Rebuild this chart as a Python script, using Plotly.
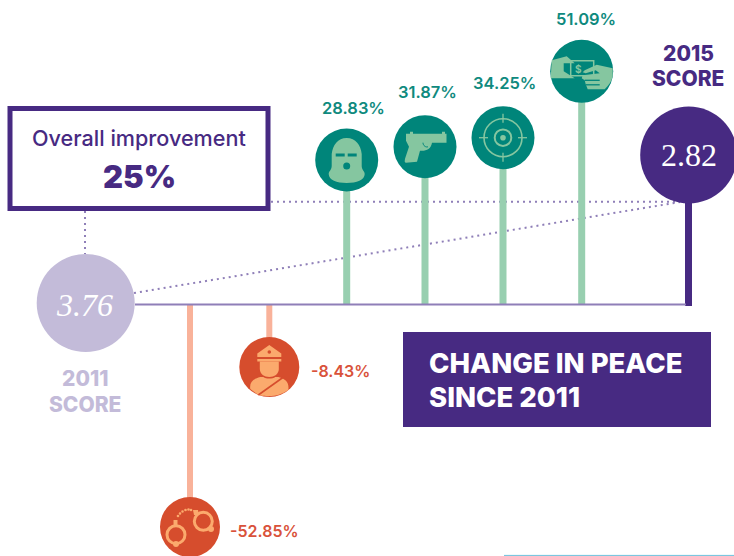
import re
import plotly.graph_objects as go

# lollipop values (labels are not to scale in the original graphic)
up_labels = ["28.83%", "31.87%", "34.25%", "51.09%"]
up_x = [346.7, 425, 503, 581.7]
up_tip = [160, 146.7, 137.7, 71.3]
down_labels = ["-52.85%", "-8.43%"]
down_x = [190, 269.3]
down_tip = [527, 367]
score_labels = ["3.76", "2.82"]
score_years = ["2011", "2015"]
score_x = [85.7, 688.7]
score_y = [303, 155]

PURPLE = "#472a82"
LILAC = "#c3bbd9"
RULE = "#8f7fb8"
TEAL = "#00857a"
MINT = "#98cfb0"
ICON_MINT = "#85c6a0"
RED = "#d64d2d"
PEACH = "#f9b29a"
ICON_ORANGE = "#fbaa6d"
FONT = "Inter"
BASE_Y = 304.5

fig = go.Figure()


def stem(x, y0, y1, color, width):
    fig.add_trace(go.Scatter(x=[x, x], y=[y0, y1], mode="lines",
                             line=dict(color=color, width=width), hoverinfo="skip"))


def dotted(xs, ys):
    fig.add_trace(go.Scatter(x=xs, y=ys, mode="lines", hoverinfo="skip",
                             line=dict(color=RULE, width=2, dash="2px 4px")))


dotted([271, 680], [201.7, 201.7])
dotted([134, 680], [293, 202])
dotted([85, 85], [211, 254])

for x, tip in zip(up_x, up_tip):
    stem(x, BASE_Y, tip, MINT, 7)
for x, tip in zip(down_x, down_tip):
    stem(x, BASE_Y, tip, PEACH, 6)
stem(688.5, 306, score_y[1], PURPLE, 7)
fig.add_trace(go.Scatter(x=[135, 686], y=[BASE_Y, BASE_Y], mode="lines",
                         line=dict(color=RULE, width=2), hoverinfo="skip"))
fig.add_trace(go.Scatter(x=[504, 734], y=[555.4, 555.4], mode="lines",
                         line=dict(color="#6cc0dc", width=1), hoverinfo="skip"))

fig.add_trace(go.Scatter(x=up_x, y=up_tip, mode="markers", hoverinfo="skip",
                         marker=dict(size=63, color=TEAL, opacity=1, line=dict(width=0))))
fig.add_trace(go.Scatter(x=down_x, y=down_tip, mode="markers", hoverinfo="skip",
                         marker=dict(size=60, color=RED, opacity=1, line=dict(width=0))))
fig.add_trace(go.Scatter(x=score_x, y=score_y, mode="markers", hoverinfo="skip",
                         marker=dict(size=[98, 97], color=[LILAC, PURPLE], opacity=1, line=dict(width=0))))


def moved(path, cx, cy):
    # shift an absolute path, numbers alternate x y
    parts = re.findall(r"[MLCQZ]|-?\d+\.?\d*", path)
    out, is_x = [], True
    for p in parts:
        if p in "MLCQZ":
            out.append(p)
            is_x = True
        else:
            out.append(str(float(p) + (cx if is_x else cy)))
            is_x = not is_x
    return " ".join(out)


def fill(path, cx, cy, color):
    fig.add_shape(type="path", path=moved(path, cx, cy), fillcolor=color,
                  line=dict(width=0), layer="above")


def line(path, cx, cy, color, width):
    fig.add_shape(type="path", path=moved(path, cx, cy), line=dict(color=color, width=width),
                  fillcolor="rgba(0,0,0,0)", layer="above")


def disc(cx, cy, r, color):
    fig.add_shape(type="circle", x0=cx - r, x1=cx + r, y0=cy - r, y1=cy + r,
                  fillcolor=color, line=dict(width=0), layer="above")


def ring(cx, cy, r, color, width):
    fig.add_shape(type="circle", x0=cx - r, x1=cx + r, y0=cy - r, y1=cy + r,
                  fillcolor="rgba(0,0,0,0)", line=dict(color=color, width=width), layer="above")


# balaclava
cx, cy = up_x[0], up_tip[0]
fill("M 0 -22 C -9 -22 -14 -15 -15 -6 L -15 6 C -15 10 -18 11 -18 14 C -18 20 -10 23 0 23 "
     "C 10 23 18 20 18 14 C 18 11 15 10 15 6 L 15 -6 C 14 -15 9 -22 0 -22 Z", cx, cy, ICON_MINT)
fill("M -11 -6.5 L -2 -6.5 L -2 -3.5 L -11 -3.5 Z", cx, cy, TEAL)
fill("M 1 -6.5 L 10 -6.5 L 10 -3.5 L 1 -3.5 Z", cx, cy, TEAL)
disc(cx, cy + 6, 3.5, TEAL)

# pistol
cx, cy = up_x[1], up_tip[1]
fill("M -19 -13 L -15 -13 L -15 -15 L -12 -15 L -12 -13 L 17 -13 L 17 -15 L 20 -15 L 20 -13 L 21.5 -13 "
     "L 21.5 -4 L 7 -4 C 6 2 2 4 -3 4 L -5 4 L -8 15 L -19 16 C -21 16 -20 13 -20 12 L -16 0 L -19 -6 Z",
     cx, cy, ICON_MINT)
line("M -2 -4 C -2 -1 1 1 3 0", cx, cy, TEAL, 1)

# target
cx, cy = up_x[2], up_tip[2]
ring(cx, cy, 19, ICON_MINT, 1.6)
ring(cx, cy, 8.3, ICON_MINT, 2)
disc(cx, cy, 2.8, ICON_MINT)
line("M -24 0 L -15 0", cx, cy, ICON_MINT, 1.3)
line("M 15 0 L 24 0", cx, cy, ICON_MINT, 1.3)
line("M 0 -24 L 0 -15", cx, cy, ICON_MINT, 1.3)
line("M 0 15 L 0 24", cx, cy, ICON_MINT, 1.3)

# banknote in hand
cx, cy = up_x[3], up_tip[3]
fill("M -30 -11 L -15 -15 L -7 -8 L -18 -8 L -18 0 L -7 7 L -31 7 Z", cx, cy, ICON_MINT)
line("M -11 -10.5 L 12 -10.5 L 12 4.5 L -11 4.5 Z", cx, cy, ICON_MINT, 1.5)
fill("M 31 -3 L 15 -6.5 L 3 -1 L 1 1 L 4 2 L 14 -1 L 18 2 L 1 4 L 0 7 L 3 9 L 4 13 L 6 18 L 23 18 "
     "C 27 14 30 10 31 5 Z", cx, cy, ICON_MINT)
line("M 3 9 L 18 9", cx, cy, TEAL, 1.3)
line("M 4 13.5 L 18 13.5", cx, cy, TEAL, 1.3)

# officer
cx, cy = down_x[1], down_tip[1]
fill("M 0 -22 L 12 -13.5 L 12 -10 L -12 -10 L -12 -13.5 Z", cx, cy, ICON_ORANGE)
fill("M -12 -8 L 12 -8 L 12 -5.5 L -12 -5.5 Z", cx, cy, ICON_ORANGE)
disc(cx, cy - 15, 1.8, RED)
fill("M -9.5 -5.5 L 9.5 -5.5 L 9.5 2 C 9.5 7 5 10 0 10 C -5 10 -9.5 7 -9.5 2 Z", cx, cy, ICON_ORANGE)
fill("M -19 22 C -20 16 -17 12 -9 10 L -6 10 C -3 12 3 12 6 10 L 9 10 C 17 12 20 16 19 23 "
     "C 12 28 2 31 -11 28 Z", cx, cy, ICON_ORANGE)
line("M 15 9.5 L -11 28", cx, cy, RED, 1.6)

# handcuffs
cx, cy = down_x[0], down_tip[0]
ring(cx - 14, cy + 7.7, 9, ICON_ORANGE, 3)
ring(cx + 13.3, cy - 5.7, 9, ICON_ORANGE, 3)
fill("M -16.5 -7 L -12.5 -7 L -12.5 -2 L -16.5 -2 Z", cx, cy, ICON_ORANGE)
fill("M 3 -17 L 8 -17 L 9 -12 L 4 -12 Z", cx, cy, ICON_ORANGE)
disc(cx - 14, cy + 17, 3, ICON_ORANGE)
disc(cx + 21, cy + 2, 3, ICON_ORANGE)
for dx, dy in [(-12, -11), (-10, -13.5), (-7.5, -15.5), (-4.5, -17), (-1.5, -17.5), (1, -17)]:
    disc(cx + dx, cy + dy, 1.3, ICON_ORANGE)

# boxes
fig.add_shape(type="rect", x0=10, x1=268, y0=108.5, y1=208.5, fillcolor="white",
              line=dict(color=PURPLE, width=5), layer="below")
fig.add_shape(type="rect", x0=403, x1=711, y0=332, y1=427, fillcolor=PURPLE,
              line=dict(width=0), layer="below")


def label(x, y, text, color, size, weight=500, anchor="center", family=FONT, style="normal"):
    fig.add_annotation(x=x, y=y, text=text, showarrow=False, xanchor=anchor, yanchor="middle",
                       font=dict(family=family, size=size, color=color, weight=weight, style=style))


for text, x, y in zip(up_labels, [353, 427.5, 504.5, 586], [108, 92, 83, 19]):
    label(x, y, text, "#0f8a7e", 16.5, 600)
for text, x, y in zip(down_labels, [228, 309], [531, 371]):
    label(x, y, text, "#d9523a", 16, 600, anchor="left")

label(up_x[3] - 3, up_tip[3] - 2, "$", ICON_MINT, 10, 700)
label(139, 138, "Overall improvement", PURPLE, 21.6)
label(139, 176, "25%", PURPLE, 31, 900)
label(688, 53, score_years[1], PURPLE, 21, 800)
label(688, 78, "SCORE", PURPLE, 21, 800)
label(85, 378, score_years[0], LILAC, 21, 800)
label(85, 404, "SCORE", LILAC, 21, 800)
label(84, 305, score_labels[0], "white", 32, 400, family="Liberation Serif", style="italic")
label(689, 155, score_labels[1], "white", 32, 400, family="Liberation Serif")
label(427, 363, "CHANGE IN PEACE", "white", 27.5, 800, anchor="left")
label(427, 397, "SINCE 2011", "white", 27.5, 800, anchor="left")

fig.update_layout(
    width=734, height=556,
    margin=dict(l=0, r=0, t=0, b=0),
    paper_bgcolor="white", plot_bgcolor="white",
    showlegend=False,
    xaxis=dict(range=[0, 734], visible=False, fixedrange=True),
    yaxis=dict(range=[556, 0], visible=False, fixedrange=True),
)

fig.write_html("out.html", config=dict(displayModeBar=False),
               post_script="document.body.style.margin='0';")
